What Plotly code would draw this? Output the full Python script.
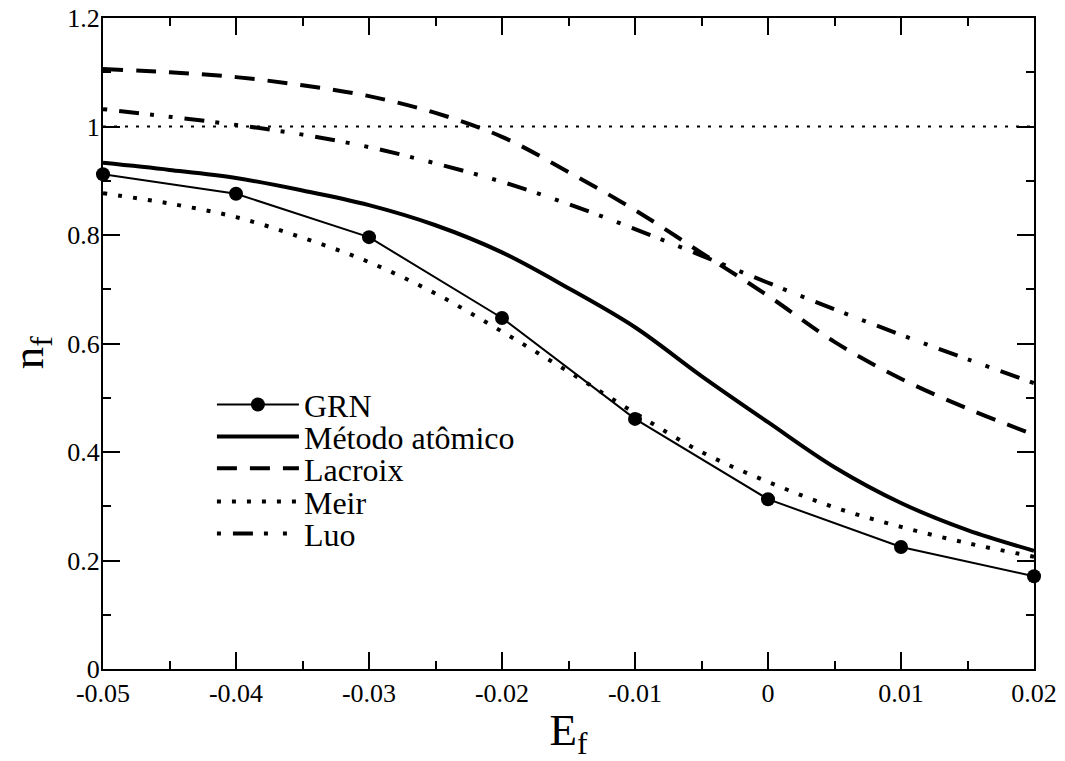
import plotly.graph_objects as go

# ---------------- data ----------------
E_grid = [-0.05, -0.045, -0.04, -0.035, -0.03, -0.025, -0.02, -0.015,
          -0.01, -0.005, 0.0, 0.005, 0.01, 0.015, 0.02]

atomico = [0.933, 0.920, 0.905, 0.882, 0.855, 0.818, 0.768, 0.702,
           0.630, 0.540, 0.455, 0.372, 0.306, 0.256, 0.218]
lacroix = [1.106, 1.100, 1.091, 1.076, 1.056, 1.025, 0.981, 0.916,
           0.846, 0.767, 0.688, 0.603, 0.535, 0.480, 0.432]
meir = [0.877, 0.858, 0.833, 0.795, 0.750, 0.692, 0.622, 0.548,
        0.472, 0.400, 0.345, 0.298, 0.262, 0.232, 0.207]
luo = [1.032, 1.018, 1.003, 0.985, 0.962, 0.932, 0.898, 0.857,
       0.811, 0.762, 0.712, 0.663, 0.616, 0.571, 0.527]

grn_E = [-0.05, -0.04, -0.03, -0.02, -0.01, 0.0, 0.01, 0.02]
grn_n = [0.912, 0.876, 0.796, 0.647, 0.461, 0.313, 0.225, 0.171]

ref_E = [-0.05, 0.02]
ref_level = [1.0, 1.0]

x_tickvals = [-0.05, -0.04, -0.03, -0.02, -0.01, 0.0, 0.01, 0.02]
x_ticktext = ["-0.05", "-0.04", "-0.03", "-0.02", "-0.01", "0", "0.01", "0.02"]
y_tickvals = [0, 0.2, 0.4, 0.6, 0.8, 1.0, 1.2]
y_ticktext = ["0", "0.2", "0.4", "0.6", "0.8", "1", "1.2"]

x_title = "E<sub>f</sub>"
y_title = "n<sub>f</sub>"

FONT = "Liberation Serif"

fig = go.Figure()

fig.add_trace(go.Scatter(
    x=ref_E, y=ref_level, mode="lines", showlegend=False, hoverinfo="skip",
    line=dict(color="black", width=2, dash="3px,8px")))

fig.add_trace(go.Scatter(
    x=grn_E, y=grn_n, mode="lines+markers", name="GRN", cliponaxis=False,
    legend="legend",
    line=dict(color="black", width=2),
    marker=dict(symbol="circle", size=14, color="black")))

fig.add_trace(go.Scatter(
    x=E_grid, y=atomico, mode="lines", name="Método atômico", legend="legend2",
    line=dict(color="black", width=4, shape="spline", smoothing=1)))

fig.add_trace(go.Scatter(
    x=E_grid, y=lacroix, mode="lines", name="Lacroix", legend="legend3",
    line=dict(color="black", width=4, shape="spline", smoothing=1, dash="20px,13px")))

fig.add_trace(go.Scatter(
    x=E_grid, y=meir, mode="lines", name="Meir", legend="legend4",
    line=dict(color="black", width=4, shape="spline", smoothing=1, dash="4px,11px")))

fig.add_trace(go.Scatter(
    x=E_grid, y=luo, mode="lines", name="Luo", legend="legend5",
    line=dict(color="black", width=4, shape="spline", smoothing=1,
              dash="4px,12px,20px,11px,4px,15px")))

axis_common = dict(
    showline=True, linecolor="black", linewidth=2, mirror="allticks",
    ticks="inside", ticklen=17, tickwidth=2, tickcolor="black",
    showgrid=False, zeroline=False, automargin=False,
    tickfont=dict(family=FONT, size=26, color="black"),
)


def leg(yc):
    return dict(
        x=0.117, y=yc, xanchor="left", yanchor="middle",
        bgcolor="rgba(0,0,0,0)", borderwidth=0,
        font=dict(family=FONT, size=32, color="black"),
        itemwidth=82)


fig.update_layout(
    width=1065, height=761,
    margin=dict(l=103, r=31, t=18, b=92),
    paper_bgcolor="white", plot_bgcolor="white",
    font=dict(family=FONT, color="black", size=26),
    xaxis=dict(
        range=[-0.05, 0.02], tickmode="array", tickvals=x_tickvals, ticktext=x_ticktext,
        minor=dict(tickmode="linear", tick0=-0.05, dtick=0.005, ticks="inside",
                   ticklen=8, tickwidth=2, tickcolor="black", showgrid=False),
        title=dict(text=x_title, font=dict(family=FONT, size=45, color="black")),
        **axis_common),
    yaxis=dict(
        range=[0, 1.2], tickmode="array", tickvals=y_tickvals, ticktext=y_ticktext,
        ticklabelstandoff=-4,
        minor=dict(tickmode="linear", tick0=0, dtick=0.1, ticks="inside",
                   ticklen=8, tickwidth=2, tickcolor="black", showgrid=False),
        **axis_common),
    legend=leg(0.406),
    legend2=leg(0.357),
    legend3=leg(0.308),
    legend4=leg(0.257),
    legend5=leg(0.208),
    annotations=[dict(
        text=y_title, textangle=-90, showarrow=False,
        xref="paper", yref="paper", x=-0.1100, y=0.486,
        xanchor="left", yanchor="middle",
        font=dict(family=FONT, size=45, color="black"))],
)

fig.write_html("out.html")
